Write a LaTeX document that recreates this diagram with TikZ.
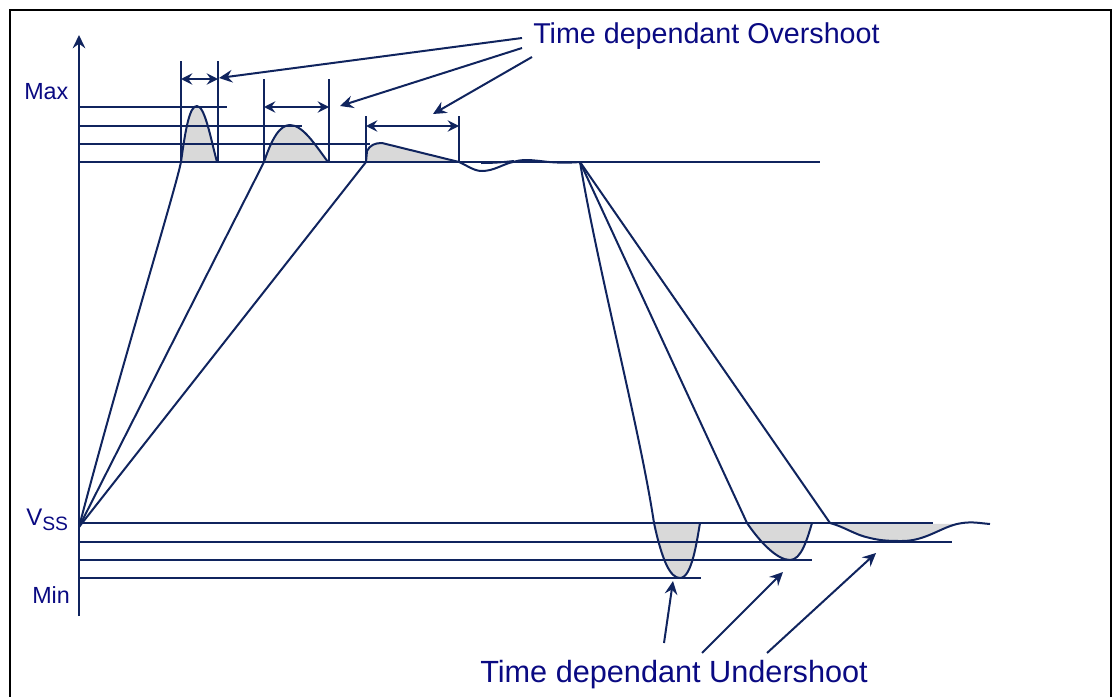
\documentclass[tikz,border=0pt]{standalone}
\usepackage{fontspec}
\setmainfont{Liberation Sans}
\usetikzlibrary{arrows.meta}
\definecolor{wavecol}{RGB}{16,36,94}
\definecolor{labelcol}{RGB}{10,10,130}
\definecolor{humpgray}{RGB}{217,217,217}

\begin{document}
\begin{tikzpicture}[x=0.75pt,y=-0.75pt,
  wave/.style={draw=wavecol, line width=1.5pt, line join=round},
  hump/.style={fill=humpgray},
  callout/.style={wave, -{Stealth[length=10pt,width=9.5pt,inset=3.5pt]}},
  span/.style={wave, {Stealth[length=8.5pt,width=8.5pt,inset=3pt]}-{Stealth[length=8.5pt,width=8.5pt,inset=3pt]}},
  lbl/.style={text=labelcol, inner sep=0pt, anchor=base west}]
\useasboundingbox (0,0) rectangle (1113,696);
\draw[line width=1.5pt] (10,10) rectangle (1111,720);

% shaded over- and undershoot areas
\path[hump] (181,162) .. controls (186,125) and (190,106) .. (197,106) .. controls (205,106) and (211,140) .. (217,162) -- cycle;
\path[hump] (264,162) .. controls (272,138) and (280,125) .. (290,125) .. controls (303,125) and (316,146) .. (328,162) -- cycle;
\path[hump] (366,162) -- (367,151) .. controls (370,145) and (375,143) .. (382,143) -- (459,162) -- cycle;
\path[hump] (654,523) .. controls (662,560) and (670,578) .. (680,578) .. controls (692,578) and (697,540) .. (700,523) -- cycle;
\path[hump] (747,523) .. controls (760,542) and (777,560) .. (790,560) .. controls (801,560) and (807,540) .. (812,523) -- cycle;
\path[hump] (830,523) .. controls (845,527) and (855,535) .. (870,538) .. controls (882,541) and (892,541) .. (902,541) .. controls (925,541) and (940,528) .. (957,524) -- cycle;

% levels
\draw[wave] (79,107) -- (227,107);
\draw[wave] (79,126) -- (302,126);
\draw[wave] (79,144) -- (370,144);
\draw[wave] (79,162) -- (820,162);
\draw[wave] (79,523) -- (933,523);
\draw[wave] (79,542) -- (952,542);
\draw[wave] (79,560) -- (812,560);
\draw[wave] (79,578) -- (701,578);
\draw[callout] (79,616) -- (79,35);

% rising edges
\coordinate (V0) at (79,527);
\draw[wave] (V0) .. controls (120,370) and (174,195) .. (181,162) .. controls (186,125) and (190,106) .. (197,106) .. controls (205,106) and (211,140) .. (217,162);
\draw[wave] (V0) -- (264,162) .. controls (272,138) and (280,125) .. (290,125) .. controls (303,125) and (316,146) .. (328,162);
\draw[wave] (V0) -- (366,162) -- (367,151) .. controls (370,145) and (375,143) .. (382,143) -- (459,162)
  .. controls (468,166) and (474,171) .. (482,171) .. controls (494,171) and (503,164) .. (513,162)
  .. controls (523,159) and (530,160) .. (540,161) .. controls (555,163) and (568,163) .. (580,162);
\draw[wave] (481,163) .. controls (495,163) and (505,162) .. (514,161);

% falling edges
\coordinate (F0) at (580,162);
\draw[wave] (F0) .. controls (598,270) and (640,430) .. (654,523) .. controls (662,560) and (670,578) .. (680,578) .. controls (692,578) and (697,540) .. (700,523);
\draw[wave] (F0) -- (747,523) .. controls (760,542) and (777,560) .. (790,560) .. controls (801,560) and (807,540) .. (812,523);
\draw[wave] (F0) -- (830,523) .. controls (845,527) and (855,535) .. (870,538) .. controls (882,541) and (892,541) .. (902,541)
  .. controls (925,541) and (940,528) .. (957,524) .. controls (970,521) and (978,523) .. (990,524);

% duration markers
\draw[wave] (181,61) -- (181,162);
\draw[wave] (218,61) -- (218,162);
\draw[wave] (264,79) -- (264,162);
\draw[wave] (329,79) -- (329,162);
\draw[wave] (366,116) -- (366,162);
\draw[wave] (459,116) -- (459,162);
\draw[span] (181,79) -- (218,79);
\draw[span] (264,107) -- (329,107);
\draw[span] (366,126) -- (459,126);

% labels
\node[lbl, font=\fontsize{17.5}{20}\selectfont] (Max) at (24,99) {Max};
\node[lbl, font=\fontsize{17.5}{20}\selectfont] (Min) at (32,603) {Min};
\node[lbl, font=\fontsize{18}{20}\selectfont] (Vss) at (26,525) {V{\fontsize{14.5}{14}\selectfont\raisebox{-3.75pt}{SS}}};
\node[lbl, font=\fontsize{21.5}{24}\selectfont] (Over) at (533,43) {Time dependant Overshoot};
\node[lbl, font=\fontsize{23}{26}\selectfont] (Under) at (480,682) {Time dependant Undershoot};

% callouts
\coordinate (o1) at (219,78);
\coordinate (o2) at (340,106);
\coordinate (o3) at (433,114);
\draw[callout] ([shift={(-11,-5)}]Over.base west) -- (o1);
\draw[callout] ([shift={(-11,5)}]Over.base west) -- (o2);
\draw[callout] ([shift={(-1,14)}]Over.base west) -- (o3);
\coordinate (u1) at (673,581);
\coordinate (u2) at (783,572);
\coordinate (u3) at (876,553);
\draw[callout] ([shift={(184,-39)}]Under.base west) -- (u1);
\draw[callout] ([shift={(222,-29)}]Under.base west) -- (u2);
\draw[callout] ([shift={(287,-29)}]Under.base west) -- (u3);
\end{tikzpicture}
\end{document}
